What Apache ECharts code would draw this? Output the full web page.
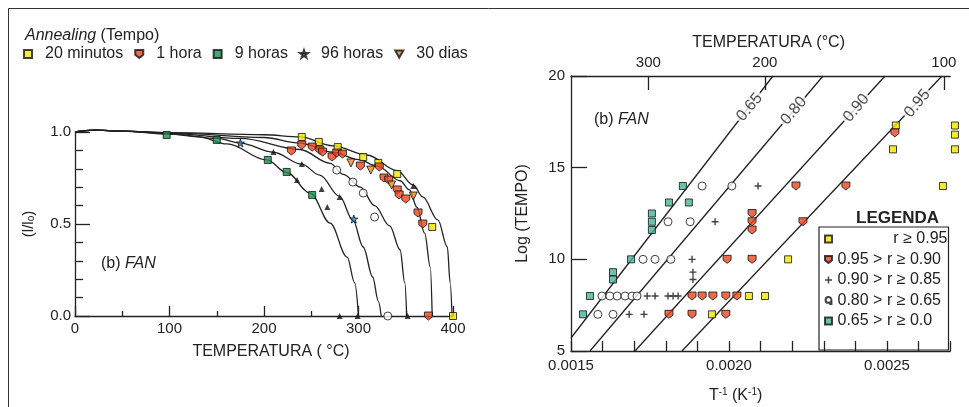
<!DOCTYPE html>
<html><head><meta charset="utf-8">
<script src="https://cdn.jsdelivr.net/npm/echarts@6/dist/echarts.min.js"></script>
<style>html,body{margin:0;padding:0;background:#fff}#c{width:969px;height:407px}</style>
</head><body><div id="c"></div>
<script>
// ---------- left panel: (l/lo) versus annealing temperature ----------
const tempTicksLeft = [0, 100, 200, 300, 400];
const curveA = [[0,1.0],[20,1.01],[50,1.005],[100,0.988],[130,0.975],[161,0.935],[203,0.848],[224,0.78],[249,0.668],[270,0.505],[288,0.32],[296,0.18],[300,0]];
const curveB = [[0,1.0],[20,1.01],[50,1.005],[100,0.99],[150,0.965],[175,0.94],[210,0.89],[240,0.825],[259,0.766],[280,0.65],[294,0.522],[305,0.375],[315,0.212],[321,0.08],[324,0]];
const curveC = [[0,1.0],[20,1.01],[50,1.005],[100,0.993],[175,0.965],[238,0.905],[270,0.83],[284,0.77],[302,0.7],[317,0.6],[333,0.49],[344,0.36],[349,0.18],[351,0]];
const curveD = [[0,1.0],[20,1.01],[50,1.005],[100,0.995],[200,0.97],[238,0.94],[273,0.89],[300,0.85],[320,0.815],[344,0.735],[354,0.685],[362,0.59],[370,0.45],[376,0.266],[378,0]];
const curveE = [[0,1.0],[20,1.01],[50,1.005],[100,0.997],[200,0.985],[238,0.973],[273,0.925],[309,0.875],[341,0.79],[358,0.712],[368,0.647],[384,0.522],[394,0.375],[397,0.18],[399,0]];

const min20 = [[240,0.973],[258,0.946],[278,0.918],[305,0.864],[321,0.832],[341,0.772],[378,0.484],[400,0.0]];
const hora1 = [[229,0.897],[240,0.929],[251,0.918],[259,0.902],[262,0.891],[272,0.864],[277,0.886],[283,0.88],[302,0.815],[322,0.81],[327,0.75],[332,0.739],[341,0.685],[343,0.658],[350,0.636],[363,0.56],[368,0.5],[374,0.0]];
const horas9 = [[97,0.984],[150,0.957],[204,0.848],[224,0.783],[251,0.658]];
const horas96 = [[175,0.94],[295,0.527]];
const dias30 = [[292,0.832],[313,0.793],[335,0.712],[358,0.652]];
const darkMarks = [[210,0.891],[240,0.826],[235,0.739],[261,0.69],[267,0.592],[280,0.647],[358,0.707],[280,0.0],[299,0.0],[352,0.0]];
const openMarks = [[277,0.793],[294,0.728],[305,0.668],[317,0.538],[331,0.0]];

// ---------- right panel: Log(tempo) versus 1/T ----------
const topTempTicks = [300, 200, 100];          // degrees C on the upper axis
const bottomLabels = [0.0015, 0.0020, 0.0025];
const fit065 = [[0.0015,5.71],[0.0021392,20]];
const fit080 = [[0.0015601,5],[0.0022975,20]];
const fit090 = [[0.0017025,5],[0.0024937,20]];
const fit095 = [[0.0018513,5],[0.002674,20]];
const fitLabels = [[0.002065,18.3,'0.65'],[0.002205,18.1,'0.80'],[0.002403,18.25,'0.90'],[0.002596,18.5,'0.95']];

const rA = [[0.002063,8.0],[0.002114,8.0],[0.001946,7.0],[0.002187,10.0],[0.002677,14.0],[0.002528,17.3],[0.002519,16.0],[0.002715,17.3],[0.002715,16.8],[0.002715,16.0]];
const rB = [[0.001883,8.0],[0.001915,8.0],[0.001949,8.0],[0.00199,8.0],[0.002025,8.0],[0.00181,7.0],[0.001883,7.0],[0.00199,7.0],[0.001994,10.0],[0.002073,10.0],[0.002073,12.5],[0.002073,12.05],[0.002073,11.6],[0.002234,12.05],[0.002212,14.0],[0.00237,14.0],[0.002525,16.9]];
const rC = [[0.001741,8.0],[0.001766,8.0],[0.001807,8.0],[0.001823,8.0],[0.001839,8.0],[0.001684,7.0],[0.001731,7.0],[0.001883,10.0],[0.001886,9.3],[0.001886,8.9],[0.001956,12.05],[0.002092,14.0]];
const rD = [[0.001598,8.0],[0.001623,8.0],[0.001646,8.0],[0.001671,8.0],[0.001693,8.0],[0.001709,8.0],[0.001585,7.0],[0.001633,7.0],[0.001728,10.0],[0.001766,10.0],[0.001816,10.0],[0.001807,12.05],[0.001877,12.05],[0.001915,14.0],[0.002009,14.0]];
const rE = [[0.00156,8.0],[0.001538,7.0],[0.00169,10.0],[0.001633,9.3],[0.001633,8.9],[0.001756,12.5],[0.001756,12.05],[0.001756,11.6],[0.00181,13.1],[0.001873,13.1],[0.001854,14.0]];
const legendLeft = ['20 minutos','1 hora','9 horas','96 horas','30 dias'];
const legendRight = ['r \u2265 0.95','0.95 > r \u2265 0.90','0.90 > r \u2265 0.85','0.80 > r \u2265 0.65','0.65 > r \u2265 0.0'];

// ---------- styling ----------
const FONT = '"Liberation Sans", Arial, Helvetica, sans-serif';
const INK = '#222';
const SQUARE = 'path://M0,0H10V10H0Z';
const SHIELD = 'path://M0,0H10V6L5,10L0,6Z';
const TRI_DOWN = 'path://M0,0H10L5,9Z';
const STAR = 'path://M5,0L6.2,3.6L10,3.6L7,5.9L8.1,9.5L5,7.3L1.9,9.5L3,5.9L0,3.6L3.8,3.6Z';
const CROSS = 'path://M4,0H6V4H10V6H6V10H4V6H0V4H4Z';
const OPEN_Q = 'path://M5,0A5,5 0 1 0 8,9V12H10V5A5,5 0 0 0 5,0Z';
const edge = {borderColor: '#111', borderWidth: 1};

function curve(d) {
  return {type: 'line', xAxisIndex: 0, yAxisIndex: 0, data: d, smooth: 0.35, smoothMonotone: 'x',
    symbol: 'none', clip: false, lineStyle: {color: INK, width: 1.3}, silent: true, z: 2};
}
function fit(d) {
  return {type: 'line', xAxisIndex: 1, yAxisIndex: 1, data: d, symbol: 'none',
    lineStyle: {color: INK, width: 1.3}, silent: true, z: 2};
}
function pts(name, d, xi, yi, symbol, size, color, extra) {
  return Object.assign({name, type: 'scatter', xAxisIndex: xi, yAxisIndex: yi, data: d, symbol,
    symbolSize: size, clip: false, itemStyle: Object.assign({color}, edge), z: 5}, extra || {});
}
function italicTitle(text, left, top) {
  return {text, left, top,
    textStyle: {fontFamily: FONT, fontSize: 16, fontWeight: 'normal', color: INK,
      rich: {i: {fontStyle: 'italic', fontFamily: FONT, fontSize: 16, color: INK}}}};
}

const axisLineStyle = {lineStyle: {color: INK, width: 1.3}};
const tickLine = {color: INK, width: 1.3};

const option = {
  animation: false,
  backgroundColor: '#fff',
  textStyle: {fontFamily: FONT, color: INK},
  title: [
    italicTitle('{i|Annealing} (Tempo)', 20, 23),
    italicTitle('(b) {i|FAN}', 96, 251),
    italicTitle('(b) {i|FAN}', 589, 107),
    {text: 'LEGENDA', left: 851, top: 205,
     textStyle: {fontFamily: FONT, fontSize: 17, fontWeight: 'bold', color: INK}}
  ],
  legend: [
    {data: legendLeft.map((n, i) => ({name: n, icon: [SQUARE, SHIELD, SQUARE, STAR, TRI_DOWN][i]})),
     left: 23, top: 46, orient: 'horizontal', itemWidth: 8, itemHeight: 8, itemGap: 11, padding: 0,
     textStyle: {fontFamily: FONT, fontSize: 16, color: INK, padding: [0, 0, 0, 8]}, selectedMode: false},
    {data: legendRight.map((n, i) => ({name: n, icon: [SQUARE, SHIELD, CROSS, OPEN_Q, SQUARE][i]})),
     left: 819, top: 227, orient: 'vertical',
     padding: [4, 1, 21, 5], itemWidth: 8, itemHeight: 7, itemGap: 4.5,
     borderColor: INK, borderWidth: 1.2, selectedMode: false,
     formatter: n => (n === legendRight[0] ? '{r|' : '{l|') + n + '}',
     textStyle: {fontFamily: FONT, fontSize: 16, color: INK,
       rich: {r: {width: 110, align: 'right', fontSize: 16, lineHeight: 16, fontFamily: FONT, color: INK},
              l: {width: 110, align: 'left', fontSize: 16, lineHeight: 16, fontFamily: FONT, color: INK}}}}
  ],
  grid: [
    {left: 75, top: 132, width: 378, height: 184, outerBoundsMode: 'none'},
    {left: 571, top: 76, width: 379.2, height: 275, outerBoundsMode: 'none'}
  ],
  xAxis: [
    {type: 'value', gridIndex: 0, min: 0, max: 400, interval: 100,
     axisLine: axisLineStyle, splitLine: {show: false},
     axisTick: {inside: true, length: 10, lineStyle: tickLine},
     minorTick: {show: true, splitNumber: 2, length: 5, lineStyle: tickLine},
     axisLabel: {fontSize: 15, color: INK, margin: 5, fontFamily: FONT,
       customValues: tempTicksLeft},
     name: 'TEMPERATURA ( \u00B0C)', nameLocation: 'middle', nameGap: 28,
     nameTextStyle: {fontSize: 16, color: INK, fontFamily: FONT, padding: [0, 0, 0, 14]}},
    {type: 'value', gridIndex: 1, min: 0.0015, max: 0.0027, interval: 0.0001,
     axisLine: axisLineStyle, splitLine: {show: false},
     axisTick: {inside: true, length: 10, lineStyle: tickLine},
     axisLabel: {fontSize: 15, color: INK, margin: 7, fontFamily: FONT,
       customValues: bottomLabels, formatter: v => v.toFixed(4)},
     name: 'T{s|-1} (K{s|-1})', nameLocation: 'middle', nameGap: 36,
     nameTextStyle: {fontSize: 16, color: INK, fontFamily: FONT, lineHeight: 18, padding: [0, 50, 0, 0],
       rich: {s: {fontSize: 10, verticalAlign: 'top', lineHeight: 10, fontFamily: FONT, color: INK}}}},
    {type: 'value', gridIndex: 1, position: 'top', min: 0.0015, max: 0.0027,
     axisLine: axisLineStyle, splitLine: {show: false},
     axisTick: {inside: true, length: 14, lineStyle: tickLine,
       customValues: topTempTicks.map(c => 1 / (c + 273.15))},
     axisLabel: {fontSize: 15, color: INK, margin: 6, fontFamily: FONT,
       customValues: topTempTicks.map(c => 1 / (c + 273.15)),
       formatter: v => String(Math.round(1 / v - 273.15))},
     name: 'TEMPERATURA (\u00B0C)', nameLocation: 'middle', nameGap: 25,
     nameTextStyle: {fontSize: 16, color: INK, fontFamily: FONT, padding: [0, 0, 0, 16]}}
  ],
  yAxis: [
    {type: 'value', gridIndex: 0, min: 0, max: 1, interval: 0.5,
     axisLine: axisLineStyle, splitLine: {show: false},
     axisTick: {inside: true, length: 15, lineStyle: tickLine},
     minorTick: {show: true, splitNumber: 5, length: 8, lineStyle: tickLine},
     axisLabel: {fontSize: 15, color: INK, margin: 4, fontFamily: FONT, formatter: v => v.toFixed(1)},
     name: '(l/l{s|o})', nameLocation: 'middle', nameGap: 39, nameRotate: 90,
     nameTextStyle: {fontSize: 15, color: INK, fontFamily: FONT,
       rich: {s: {fontSize: 10, verticalAlign: 'bottom', fontFamily: FONT, color: INK}}}},
    {type: 'value', gridIndex: 1, min: 5, max: 20, interval: 5,
     axisLine: axisLineStyle, splitLine: {show: false},
     axisTick: {inside: true, length: 16, lineStyle: tickLine},
     axisLabel: {fontSize: 15, color: INK, margin: 6, fontFamily: FONT},
     name: 'Log (TEMPO)', nameLocation: 'middle', nameGap: 40, nameRotate: 90,
     nameTextStyle: {fontSize: 16, color: INK, fontFamily: FONT}}
  ],
  series: [
    curve(curveA), curve(curveB), curve(curveC), curve(curveD), curve(curveE),
    pts('darkMarks', darkMarks, 0, 0, 'triangle', 6, '#111', {itemStyle: {color: '#111'}}),
    pts('openMarks', openMarks, 0, 0, 'circle', 8, '#fff'),
    pts(legendLeft[0], min20, 0, 0, SQUARE, 7, '#f4e600'),
    pts(legendLeft[1], hora1, 0, 0, SHIELD, 8, '#e8461e'),
    pts(legendLeft[2], horas9, 0, 0, SQUARE, 7, '#1f8f50'),
    pts(legendLeft[3], horas96, 0, 0, STAR, 8, '#2a7fd4'),
    pts(legendLeft[4], dias30, 0, 0, TRI_DOWN, 8, '#f08a1c'),

    fit(fit065), fit(fit080), fit(fit090), fit(fit095),
    {type: 'scatter', xAxisIndex: 1, yAxisIndex: 1, data: fitLabels, symbolSize: 0.1,
     itemStyle: {color: 'rgba(0,0,0,0)'}, silent: true, z: 3,
     label: {show: true, position: 'inside', formatter: p => p.value[2], rotate: 50,
       fontSize: 16, color: INK, fontFamily: FONT, backgroundColor: '#fff', padding: [0, 2]}},
    pts(legendRight[0], rA, 1, 1, SQUARE, 7, '#f4e600'),
    pts(legendRight[1], rB, 1, 1, SHIELD, 8, '#e8461e'),
    pts(legendRight[2], rC, 1, 1, CROSS, 7, '#111', {itemStyle: {color: '#111'}}),
    pts(legendRight[3], rD, 1, 1, 'circle', 8, '#fff'),
    pts(legendRight[4], rE, 1, 1, SQUARE, 7, '#48b39a')
  ],
  graphic: [
    {type: 'line', shape: {x1: 8.5, y1: 8.5, x2: 8.5, y2: 407}, style: {stroke: '#333', lineWidth: 1}},
    {type: 'line', shape: {x1: 8.5, y1: 8.5, x2: 969, y2: 8.5}, style: {stroke: '#333', lineWidth: 1}}
  ]
};

const chart = echarts.init(document.getElementById('c'), null, {renderer: 'canvas'});
chart.setOption(option);
</script>
</body></html>
